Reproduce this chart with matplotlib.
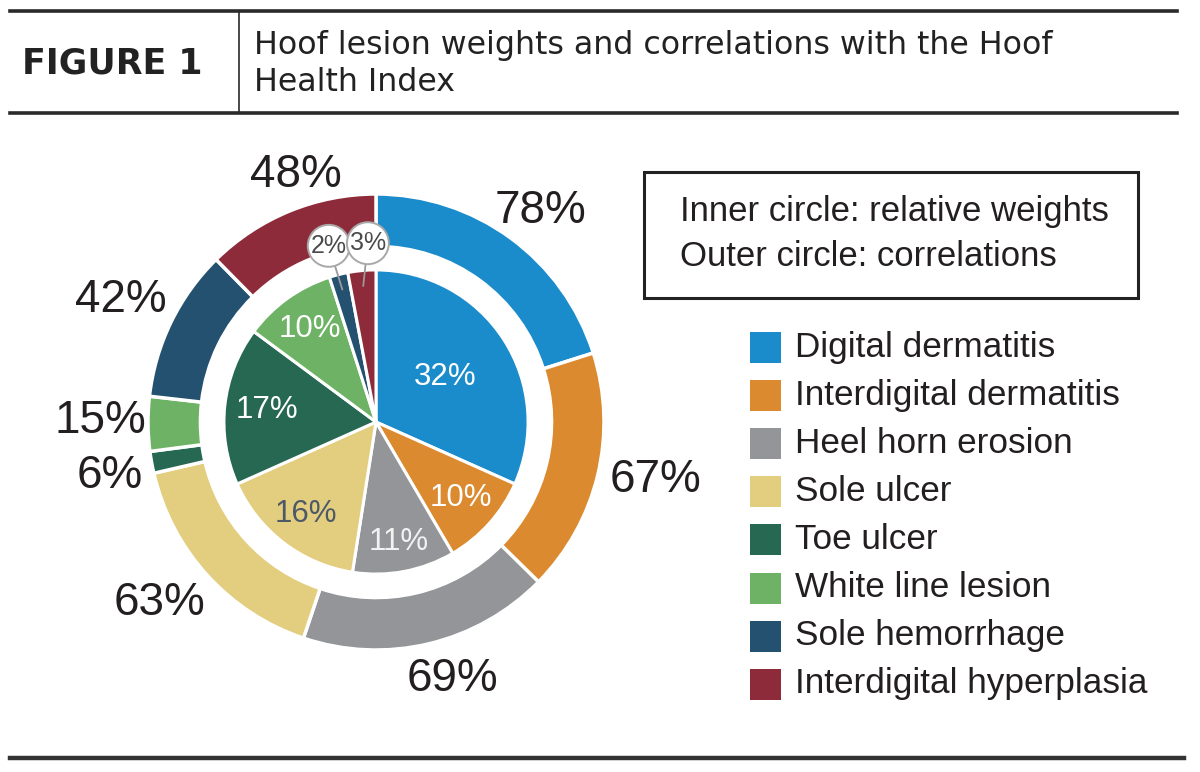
import matplotlib
matplotlib.use("Agg")
import matplotlib.pyplot as plt
import numpy as np
from matplotlib.patches import Rectangle, Circle
from matplotlib.lines import Line2D

# ---------------- data ----------------
lesions = ["Digital dermatitis", "Interdigital dermatitis", "Heel horn erosion",
           "Sole ulcer", "Toe ulcer", "White line lesion", "Sole hemorrhage",
           "Interdigital hyperplasia"]
weights = [32, 10, 11, 16, 17, 10, 2, 3]           # inner circle: relative weights (%)
correlations = [78, 67, 69, 63, 6, 15, 42, 48]     # outer circle: correlations (%)
colors = ["#1B8CCB", "#DB8A2F", "#939598", "#E3CD7E",
          "#276853", "#6EB365", "#24516F", "#8E2B3A"]

title_text = "Hoof lesion weights and correlations with the Hoof\nHealth Index"
fig_label = "FIGURE 1"
box_lines = ["Inner circle: relative weights", "Outer circle: correlations"]

# ---------------- styling (label placement tweaks) ----------------
outer_label_dist = [1.175, 1.25, 1.175, 1.24, 1.19, 1.21, 1.24, 1.14]
outer_label_dang = [-1.7, 1.7, 3.2, -2.3, 1.3, -0.6, 0.5, -4.3]
inner_label_dist = [0.54, 0.75, 0.80, 0.76, 0.72, 0.75]
inner_text_colors = ["white", "white", "#f2f2f2", "#4d5966", "white", "white"]
callout_pos = [(105.0, 0.80), (92.6, 0.785)]

# ---------------- figure ----------------
W, H = 1200, 772
fig = plt.figure(figsize=(W / 100, H / 100), dpi=100)
fig.patch.set_facecolor("white")

def fx(px):
    return px / W

def fy(py):
    return 1 - py / H

# header rules
dark = "#2a2a2a"
fig.add_artist(Line2D([fx(10), fx(1177)], [fy(11), fy(11)], color=dark, lw=2.6))
fig.add_artist(Line2D([fx(10), fx(1177)], [fy(113), fy(113)], color=dark, lw=2.6))
fig.add_artist(Line2D([fx(239), fx(239)], [fy(12), fy(112)], color=dark, lw=1.2))
fig.add_artist(Line2D([fx(10), fx(1184)], [fy(758), fy(758)], color="#333333", lw=3.2))

fig.text(fx(22), fy(64), fig_label, fontsize=25, fontweight="bold", color="#222222",
         ha="left", va="center", family="DejaVu Sans")
fig.text(fx(254), fy(64), title_text, fontsize=22.8, color="#222222",
         ha="left", va="center", family="DejaVu Sans", linespacing=1.22)

# ---------------- pie ----------------
cx, cy, R = 376, 422, 228          # centre and outer radius in pixels
L = 1.45
side = 2 * L * R
ax = fig.add_axes([fx(cx - side / 2), fy(cy + side / 2), side / W, side / H])
ax.set_xlim(-L, L)
ax.set_ylim(-L, L)
ax.set_aspect("equal")
ax.axis("off")

outer, _ = ax.pie(correlations, radius=1.0, colors=colors, startangle=90,
                  counterclock=False,
                  wedgeprops=dict(width=0.23, edgecolor="white", linewidth=2.5))
r_in = 0.667
inner, _ = ax.pie(weights, radius=r_in, colors=colors, startangle=90,
                  counterclock=False,
                  wedgeprops=dict(edgecolor="white", linewidth=2.2))
ax.set_xlim(-L, L)
ax.set_ylim(-L, L)

label_font = ["Liberation Sans", "DejaVu Sans"]

# outer labels
for i, (w, val) in enumerate(zip(outer, correlations)):
    ang = np.deg2rad((w.theta1 + w.theta2) / 2 + outer_label_dang[i])
    d = outer_label_dist[i]
    ax.text(d * np.cos(ang), d * np.sin(ang), f"{val}%", ha="center", va="center",
            fontsize=33, color="#231f20", family=label_font)

# inner labels
for i, (w, val) in enumerate(zip(inner, weights)):
    ang = np.deg2rad((w.theta1 + w.theta2) / 2)
    if val < 5:
        # callout bubble
        ca, rb = callout_pos[i - 6]
        ca = np.deg2rad(ca)
        bx, by = rb * np.cos(ca), rb * np.sin(ca)
        px_, py_ = 0.9 * r_in * np.cos(ang), 0.9 * r_in * np.sin(ang)
        ax.plot([bx + (px_ - bx) * 0.3, px_], [by + (py_ - by) * 0.3, py_],
                color="#9a9a9a", lw=1.3, zorder=5)
        ax.add_patch(Circle((bx, by), 0.092, facecolor="white", edgecolor="#a8a8a8",
                            lw=1.4, zorder=6))
        ax.text(bx, by, f"{val}%", ha="center", va="center", fontsize=18,
                color="#4a4a4a", family=label_font, zorder=7)
    else:
        d = inner_label_dist[i]
        ax.text(d * r_in * np.cos(ang), d * r_in * np.sin(ang), f"{val}%",
                ha="center", va="center", fontsize=22.5,
                color=inner_text_colors[i], family=label_font)

# ---------------- legend box ----------------
fig.add_artist(Rectangle((fx(644), fy(298)), fx(1138) - fx(644), fy(172) - fy(298),
                         fill=False, edgecolor="#222222", lw=2.2))
fig.text(fx(680), fy(211), box_lines[0], fontsize=25, color="#231f20",
         ha="left", va="center", family=label_font)
fig.text(fx(680), fy(257), box_lines[1], fontsize=25, color="#231f20",
         ha="left", va="center", family=label_font)

row0, step = 347, 48.1
for k, (name, col) in enumerate(zip(lesions, colors)):
    yc = row0 + k * step
    fig.add_artist(Rectangle((fx(750), fy(yc + 16)), 31 / W, 31 / H,
                             facecolor=col, edgecolor="none"))
    fig.text(fx(795), fy(yc), name, fontsize=25.3, color="#231f20",
             ha="left", va="center", family=label_font)

fig.savefig("out.png", dpi=100, facecolor="white")
